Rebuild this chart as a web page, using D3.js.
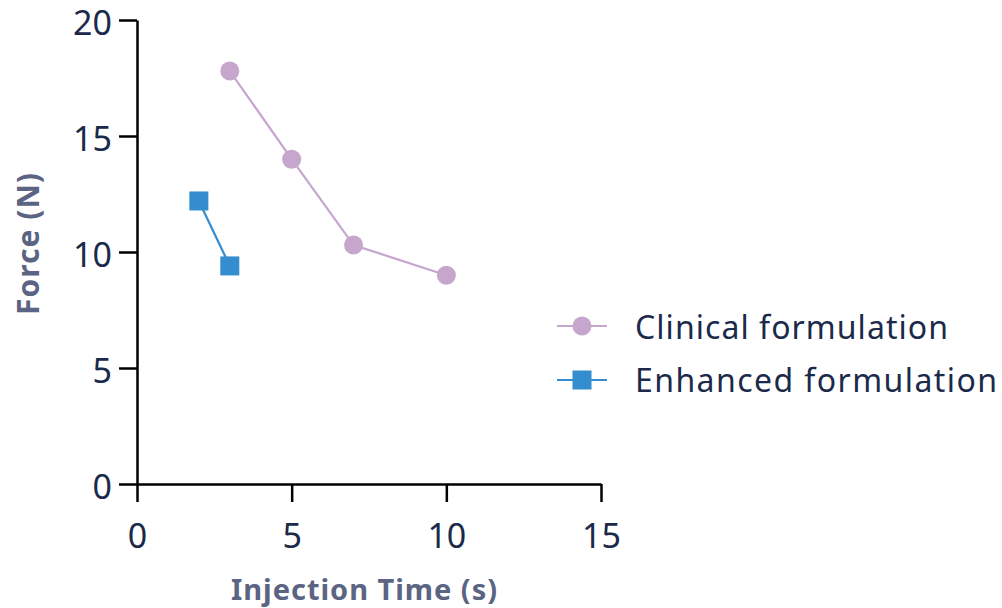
<!DOCTYPE html>
<html><head><meta charset="utf-8">
<script src="https://cdn.jsdelivr.net/npm/d3@7"></script>
<style>body{margin:0;background:#fff}svg{display:block}</style>
</head><body><svg id="c" width="1002" height="608"></svg>
<script>
const xTicks = [0, 5, 10, 15];
const yTicks = [0, 5, 10, 15, 20];
const clinicalX = [3, 5, 7, 10];
const clinicalY = [17.8, 14.0, 10.3, 9.0];
const enhancedX = [2, 3];
const enhancedY = [12.2, 9.4];
const seriesNames = ["Clinical formulation", "Enhanced formulation"];
const xTitle = "Injection Time (s)";
const yTitle = "Force (N)";

const font = "'Noto Sans', sans-serif";
const tickColor = "#1b2a4a";
const titleColor = "#5b6482";
const cClin = "#c6a6cd", cEnh = "#338dcf";

const svg = d3.select("#c");
const x = d3.scaleLinear().domain([0, 15]).range([137, 601]);
const y = d3.scaleLinear().domain([0, 20]).range([484, 20]);

const xa = svg.append("g").attr("transform", "translate(0,484)")
  .call(d3.axisBottom(x).tickValues(xTicks).tickSize(18).tickPadding(22).tickSizeOuter(0));
const ya = svg.append("g").attr("transform", "translate(137,0)")
  .call(d3.axisLeft(y).tickValues(yTicks).tickSize(18).tickPadding(7).tickSizeOuter(0));
[xa, ya].forEach(a => {
  a.select(".domain").attr("stroke", "#000").attr("stroke-width", 2.5);
  a.selectAll(".tick line").attr("stroke", "#000").attr("stroke-width", 2.5);
  a.selectAll(".tick text").attr("fill", tickColor).style("font-family", font).style("font-size", "34px");
});
ya.selectAll(".tick text").attr("dy", "0.42em");

svg.append("text").attr("x", 364).attr("y", 600).attr("text-anchor", "middle")
  .attr("fill", titleColor).style("font-family", font).style("font-size", "29px").style("font-weight", "bold")
  .attr("textLength", 266).attr("lengthAdjust", "spacing").text(xTitle);
svg.append("text").attr("transform", "translate(39,244) rotate(-90)").attr("text-anchor", "middle")
  .attr("fill", titleColor).style("font-family", font).style("font-size", "30px").style("font-weight", "bold")
  .attr("textLength", 142).attr("lengthAdjust", "spacing").text(yTitle);

const line = d3.line().x(d => x(d[0])).y(d => y(d[1]));
const clin = clinicalX.map((v, i) => [v, clinicalY[i]]);
const enh = enhancedX.map((v, i) => [v, enhancedY[i]]);

svg.append("path").attr("d", line(clin)).attr("fill", "none").attr("stroke", cClin).attr("stroke-width", 2.2);
svg.append("path").attr("d", line(enh)).attr("fill", "none").attr("stroke", cEnh).attr("stroke-width", 2.2);
svg.selectAll(".cp").data(clin).enter().append("circle")
  .attr("cx", d => x(d[0])).attr("cy", d => y(d[1])).attr("r", 9.5).attr("fill", cClin);
svg.selectAll(".ep").data(enh).enter().append("rect")
  .attr("x", d => x(d[0]) - 9.5).attr("y", d => y(d[1]) - 9.5).attr("width", 19).attr("height", 19).attr("fill", cEnh);

// legend
const leg = [[326, cClin, "circle", 339, 313], [380, cEnh, "rect", 392, 362]];
leg.forEach((l, i) => {
  const g = svg.append("g");
  g.append("line").attr("x1", 557).attr("x2", 607).attr("y1", l[0]).attr("y2", l[0]).attr("stroke", l[1]).attr("stroke-width", 2.2);
  if (l[2] === "circle") g.append("circle").attr("cx", 582).attr("cy", l[0]).attr("r", 9.5).attr("fill", l[1]);
  else g.append("rect").attr("x", 572.5).attr("y", l[0] - 9.5).attr("width", 19).attr("height", 19).attr("fill", l[1]);
  g.append("text").attr("x", 635).attr("y", l[3]).attr("fill", tickColor)
    .style("font-family", font).style("font-size", "32px")
    .attr("textLength", l[4]).attr("lengthAdjust", "spacing").text(seriesNames[i]);
});
</script></body></html>
